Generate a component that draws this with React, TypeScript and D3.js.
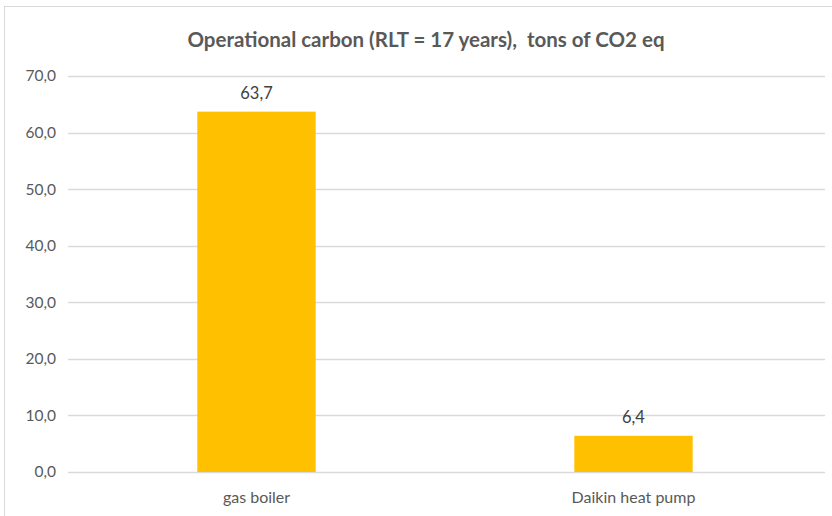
import { useEffect, useRef } from 'react';
import * as d3 from 'd3';

const categories = ['gas boiler', 'Daikin heat pump'];
const values = [63.7, 6.4];
const yTicks = [0, 10, 20, 30, 40, 50, 60, 70];
const title = 'Operational carbon (RLT = 17 years),  tons of CO2 eq';

const fmt = (v: number) => v.toFixed(1).replace('.', ',');

export default function App() {
	const svgRef = useRef<SVGSVGElement>(null);

	useEffect(() => {
		const width = 832;
		const height = 516;
		const margin = { top: 76, right: 8, bottom: 44, left: 68 };
		const font = 'Lato, "Open Sans", sans-serif';

		const svg = d3.select(svgRef.current);
		svg.selectAll('*').remove();

		svg.append('rect')
			.attr('x', 4.5)
			.attr('y', 6.5)
			.attr('width', width + 10)
			.attr('height', height + 10)
			.attr('fill', '#fff')
			.attr('stroke', '#d9d9d9');

		const x = d3.scaleBand()
			.domain(categories)
			.range([margin.left, 822])
			.paddingInner(0.686)
			.paddingOuter(0.343);

		const y = d3.scaleLinear()
			.domain([0, 70])
			.range([height - margin.bottom, margin.top]);

		svg.append('text')
			.attr('x', 426)
			.attr('y', 47)
			.attr('text-anchor', 'middle')
			.attr('font-family', font)
			.attr('font-size', 20.5)
			.attr('font-weight', 'bold')
			.attr('fill', '#595959')
			.style('white-space', 'pre')
			.text(title);

		const grid = svg.append('g');
		grid.selectAll('line')
			.data(yTicks)
			.join('line')
			.attr('x1', margin.left)
			.attr('x2', 825)
			.attr('y1', d => Math.round(y(d)) + 0.5)
			.attr('y2', d => Math.round(y(d)) + 0.5)
			.attr('stroke', '#d9d9d9')
			.attr('stroke-width', 1.3);

		grid.selectAll('text')
			.data(yTicks)
			.join('text')
			.attr('x', 56)
			.attr('y', d => y(d))
			.attr('dy', '0.35em')
			.attr('text-anchor', 'end')
			.attr('font-family', font)
			.attr('font-size', 15.5)
			.attr('fill', '#595959')
			.text(d => fmt(d));

		svg.selectAll('rect.bar')
			.data(values)
			.join('rect')
			.attr('class', 'bar')
			.attr('x', (_, i) => x(categories[i])!)
			.attr('width', x.bandwidth())
			.attr('y', d => y(d))
			.attr('height', d => y(0) - y(d))
			.attr('fill', '#ffc000');

		svg.selectAll('text.val')
			.data(values)
			.join('text')
			.attr('class', 'val')
			.attr('x', (_, i) => x(categories[i])! + x.bandwidth() / 2)
			.attr('y', d => y(d) - 13)
			.attr('text-anchor', 'middle')
			.attr('font-family', font)
			.attr('font-size', 16.5)
			.attr('fill', '#404040')
			.text(d => fmt(d));

		svg.selectAll('text.cat')
			.data(categories)
			.join('text')
			.attr('class', 'cat')
			.attr('x', d => x(d)! + x.bandwidth() / 2)
			.attr('y', 503)
			.attr('text-anchor', 'middle')
			.attr('font-family', font)
			.attr('font-size', 16)
			.attr('fill', '#595959')
			.text(d => d);
	}, []);

	return (
		<svg
			ref={svgRef}
			width={832}
			height={516}
			style={{ position: 'absolute', left: 0, top: 0, display: 'block' }}
		/>
	);
}
